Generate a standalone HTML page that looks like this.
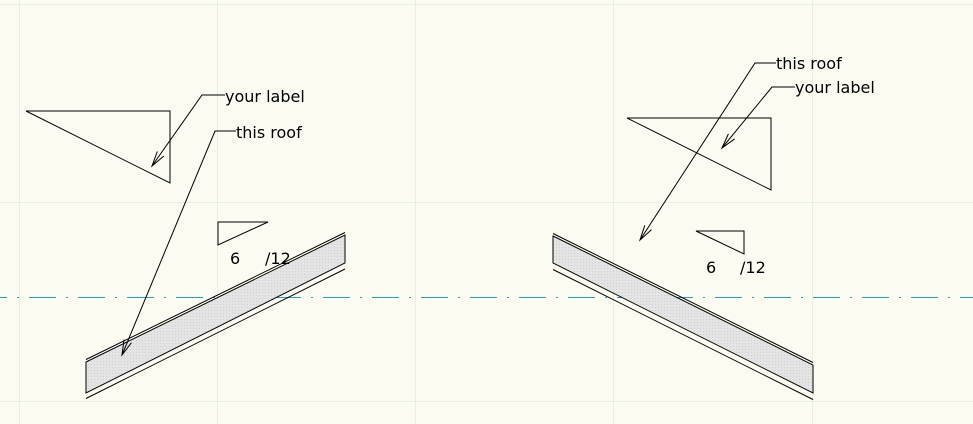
<!DOCTYPE html>
<html><head><meta charset="utf-8"><style>
html,body{margin:0;padding:0;background:#fcfbf2;}
svg{display:block;}
text{font-family:"DejaVu Sans","Liberation Sans",sans-serif;font-size:16px;fill:#000;}
</style></head><body>
<svg width="973" height="424" viewBox="0 0 973 424" xmlns="http://www.w3.org/2000/svg">
<defs>
<marker id="a" markerUnits="userSpaceOnUse" markerWidth="20" markerHeight="12" refX="16" refY="5" orient="auto">
<path d="M1,1 L16,5 L1,9" fill="none" stroke="#000" stroke-width="1"/>
</marker>
<pattern id="dots" width="3" height="3" patternUnits="userSpaceOnUse">
<rect width="3" height="3" fill="#e4e4e4"/><rect x="1" y="1" width="1" height="1" fill="#cfcfcf"/>
</pattern>
</defs>
<g stroke="#e9eee0" stroke-width="1">
<line x1="19.5" y1="0" x2="19.5" y2="424"/><line x1="217.5" y1="0" x2="217.5" y2="424"/>
<line x1="415.5" y1="0" x2="415.5" y2="424"/><line x1="613.5" y1="0" x2="613.5" y2="424"/>
<line x1="812.5" y1="0" x2="812.5" y2="424"/>
<line x1="0" y1="4.5" x2="973" y2="4.5"/><line x1="0" y1="202.5" x2="973" y2="202.5"/>
<line x1="0" y1="401.5" x2="973" y2="401.5"/>
</g>
<line x1="-20" y1="297.5" x2="973" y2="297.5" stroke="#2aa0bb" stroke-width="1.3" stroke-dasharray="27,10,2,10" shape-rendering="crispEdges"/>
<g fill="none" stroke="#000" stroke-width="1">
<path d="M26,111 L170,111 L170,183 Z"/>
<path d="M218,222 L268,222 L218,245 Z"/>
<path d="M86,362 L345,235 L345,263 L86,393 Z" fill="url(#dots)"/>
<line x1="86" y1="359.5" x2="345" y2="232.5"/>
<line x1="86" y1="398.5" x2="345" y2="269"/>
<path d="M225,95 L202,95 L152,166" marker-end="url(#a)"/>
<path d="M236,131 L215,131 L122,355" marker-end="url(#a)"/>
<path d="M627,118 L771,118 L771,190 Z"/>
<path d="M696,231 L744,231 L744,254 Z"/>
<path d="M553,236 L813,365 L813,393 L553,263 Z" fill="url(#dots)"/>
<line x1="553" y1="233.5" x2="813" y2="362.5"/>
<line x1="553" y1="269.5" x2="813" y2="399.5"/>
<path d="M776,63 L755,63 L640,240" marker-end="url(#a)"/>
<path d="M795,87 L772,87 L722,148" marker-end="url(#a)"/>
</g>
<text x="225" y="102">your label</text>
<text x="236" y="138">this roof</text>
<text x="230" y="264">6</text>
<text x="265" y="264">/12</text>
<text x="776" y="69">this roof</text>
<text x="795" y="93">your label</text>
<text x="706" y="273">6</text>
<text x="740" y="273">/12</text>
</svg>
</body></html>
